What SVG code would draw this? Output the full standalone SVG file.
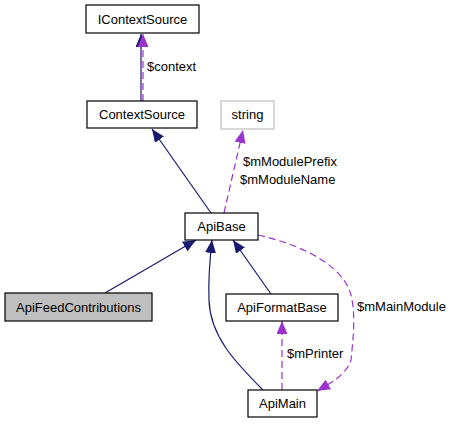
<svg xmlns="http://www.w3.org/2000/svg" width="451" height="424" viewBox="0 0 451 424">
<style>
.box{fill:#ffffff;stroke:#000000;stroke-width:1.2}
.gray{fill:#bfbfbf;stroke:#000000;stroke-width:1.2}
.light{fill:#ffffff;stroke:#bfbfbf;stroke-width:1.2}
text{font-family:"Liberation Sans",Arial,sans-serif;font-size:13px;fill:#000000}
.c{text-anchor:middle}
.inh{fill:none;stroke:#191970;stroke-width:1.2}
.use{fill:none;stroke:#9a32cd;stroke-width:1.2;stroke-dasharray:7,4}
</style>
<defs>
<marker id="an" markerUnits="userSpaceOnUse" viewBox="0 0 13 11" refX="13" refY="5.5" markerWidth="13" markerHeight="11" orient="auto"><path d="M0,0 L13,5.5 L0,11 z" fill="#191970"/></marker>
<marker id="ap" markerUnits="userSpaceOnUse" viewBox="0 0 13 11" refX="13" refY="5.5" markerWidth="13" markerHeight="11" orient="auto"><path d="M0,0 L13,5.5 L0,11 z" fill="#9a32cd"/></marker>
</defs>
<g id="edges">
<path class="inh" d="M141,101 L141,34" marker-end="url(#an)"/>
<path class="use" d="M143,101 L143,34" marker-end="url(#ap)"/>
<text x="147" y="71">$context</text>
<path class="inh" d="M211,213 L152,129" marker-end="url(#an)"/>
<path class="use" d="M224,213 L243,130" marker-end="url(#ap)"/>
<text x="243" y="166">$mModulePrefix</text>
<text x="240" y="184">$mModuleName</text>
<path class="inh" d="M105,293 L196,240" marker-end="url(#an)"/>
<path class="inh" d="M271,294 L233,240" marker-end="url(#an)"/>
<path class="inh" d="M263,390 C235,362 210,336 209,300 C208,276 210,258 212,240" marker-end="url(#an)"/>
<path class="use" d="M282,390 L282,321" marker-end="url(#ap)"/>
<text x="287" y="358">$mPrinter</text>
<path class="use" d="M258,235 C302,245 343,265 351,295 C356,315 353,340 351,360 C346,375 331,383 317,391" marker-end="url(#ap)"/>
<text x="357" y="311">$mMainModule</text>
</g>
<g id="IContextSource"><rect class="box" x="86" y="5" width="113" height="28"/><text class="c" x="142.5" y="24">IContextSource</text></g>
<g id="ContextSource"><rect class="box" x="87" y="101" width="110" height="27"/><text class="c" x="142" y="119">ContextSource</text></g>
<g id="string"><rect class="light" x="221" y="101" width="53" height="28"/><text class="c" x="247.5" y="119">string</text></g>
<g id="ApiBase"><rect class="box" x="185" y="213" width="73" height="27"/><text class="c" x="221.5" y="231">ApiBase</text></g>
<g id="ApiFeedContributions"><rect class="gray" x="5" y="293" width="147" height="28"/><text class="c" x="78.5" y="311.5">ApiFeedContributions</text></g>
<g id="ApiFormatBase"><rect class="box" x="226" y="294" width="112" height="27"/><text class="c" x="282" y="312">ApiFormatBase</text></g>
<g id="ApiMain"><rect class="box" x="248" y="390" width="69" height="27"/><text class="c" x="282.5" y="408">ApiMain</text></g>
</svg>
